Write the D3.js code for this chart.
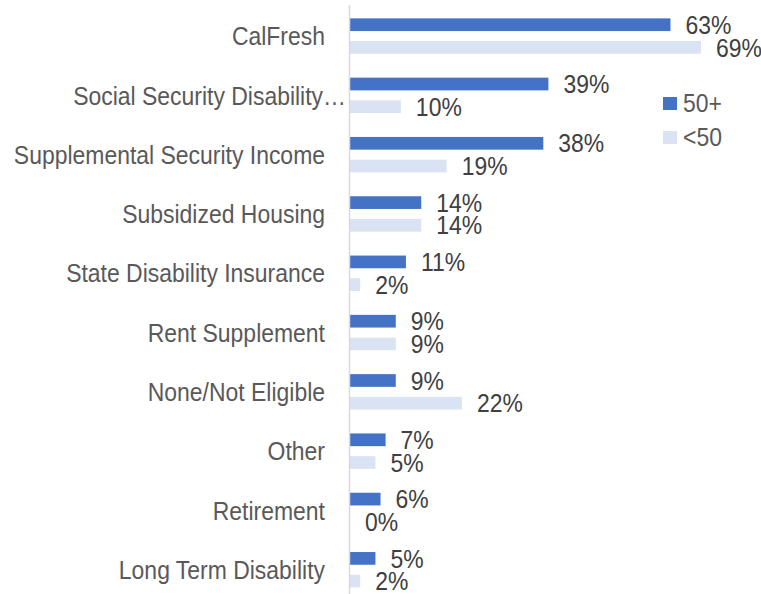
<!DOCTYPE html>
<html>
<head>
<meta charset="utf-8">
<script src="https://cdn.jsdelivr.net/npm/d3@7"></script>
<style>
  body { margin: 0; background: #fff; }
  text { font-family: Arial, "Liberation Sans", sans-serif; }
</style>
</head>
<body>
<div id="plot"></div>
<script>
// data
const categories = ["CalFresh", "Social Security Disability…", "Supplemental Security Income",
    "Subsidized Housing", "State Disability Insurance", "Rent Supplement",
    "None/Not Eligible", "Other", "Retirement", "Long Term Disability"];
const seriesNames = ["50+", "<50"];
const over50 = [63, 39, 38, 14, 11, 9, 9, 7, 6, 5];
const under50 = [69, 10, 19, 14, 2, 9, 22, 5, 0, 2];
const colors = ["#4472C4", "#DAE3F3"];

const width = 761, height = 594;
const axisX = 350;
const fontSize = 25.5;
// text in the reference is a little condensed
const squeeze = 0.9;

const place = (tx, ty) => "translate(" + tx + "," + ty + ") scale(" + squeeze + ",1)";

const svg = d3.select("#plot")
    .append("svg")
    .attr("width", width)
    .attr("height", height);

// x scale: percent -> pixels
const x = d3.scaleLinear()
    .domain([0, 69])
    .range([axisX, 701]);

// y scale for category rows
const y = d3.scaleBand()
    .domain(categories)
    .range([6.4, 599.4]);

// sub scale for the two bars in a row
const ySub = d3.scaleBand()
    .domain(seriesNames)
    .range([-17.7, 17.7])
    .paddingInner(0.44);

const rows = categories.map((c, i) => ({cat: c, vals: [over50[i], under50[i]]}));

const row = svg.append("g")
    .selectAll("g")
    .data(rows)
    .enter()
    .append("g")
    .attr("transform", d => "translate(0," + (y(d.cat) + y.bandwidth() / 2) + ")");

// bars
row.selectAll("rect")
    .data(d => d.vals.map((v, j) => ({v: v, s: seriesNames[j], j: j})))
    .enter()
    .append("rect")
    .attr("x", x(0))
    .attr("y", d => ySub(d.s))
    .attr("width", d => x(d.v) - x(0))
    .attr("height", ySub.bandwidth())
    .attr("fill", d => colors[d.j]);

// value labels
row.selectAll("text.val")
    .data(d => d.vals.map((v, j) => ({v: v, s: seriesNames[j]})))
    .enter()
    .append("text")
    .attr("class", "val")
    .attr("transform", d => place(x(d.v) + 15, ySub(d.s) + ySub.bandwidth() / 2))
    .attr("dy", "0.36em")
    .attr("font-size", fontSize)
    .attr("fill", "#404040")
    .text(d => d.v + "%");

// category labels
row.append("text")
    .attr("transform", d => place(d.cat.endsWith("…") ? axisX - 4 : 325, 0))
    .attr("dy", "0.36em")
    .attr("text-anchor", "end")
    .attr("font-size", fontSize)
    .attr("fill", "#595959")
    .text(d => d.cat);

// vertical axis line
svg.append("line")
    .attr("x1", axisX - 0.5).attr("x2", axisX - 0.5)
    .attr("y1", 5).attr("y2", height)
    .attr("stroke", "#D9D9D9")
    .attr("stroke-width", 1.5);

// legend
const legend = svg.append("g")
    .selectAll("g")
    .data(seriesNames)
    .enter()
    .append("g")
    .attr("transform", (d, i) => "translate(663," + (103 + i * 34) + ")");

legend.append("rect")
    .attr("x", 0)
    .attr("y", -6)
    .attr("width", 14)
    .attr("height", 13)
    .attr("fill", (d, i) => colors[i]);

legend.append("text")
    .attr("transform", place(20, 0))
    .attr("dy", "0.36em")
    .attr("font-size", fontSize)
    .attr("fill", "#595959")
    .text(d => d);
</script>
</body>
</html>
